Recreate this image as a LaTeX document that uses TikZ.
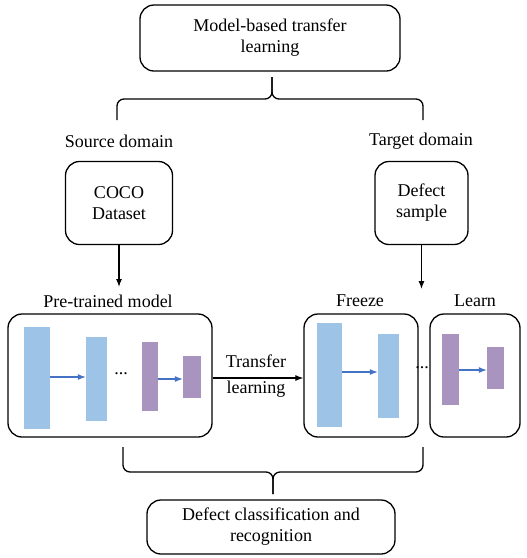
\documentclass[tikz,border=0pt]{standalone}
\usepackage{fontspec}
\setmainfont{Liberation Serif}
\usetikzlibrary{arrows.meta}
\definecolor{layerblue}{HTML}{9DC3E6}
\definecolor{layerpurple}{HTML}{A994C0}
\definecolor{flowblue}{HTML}{4472C4}
\begin{document}
\begin{tikzpicture}[x=1pt,y=-1pt,
  every node/.style={font=\fontsize{18}{21}\selectfont},
  roundbox/.style={draw, line width=1.3pt, rounded corners=14pt},
  txtbox/.style={roundbox, align=center, inner sep=0pt},
  layer/.style={draw=none, inner sep=0pt},
  flow/.style={draw=flowblue, line width=1.1pt, -{Latex[length=8pt,width=6pt]}},
  conn/.style={line width=1.1pt, -{Latex[length=8pt,width=6pt]}},
  brace/.style={line width=1.3pt, rounded corners=7pt}]
\useasboundingbox (0,0) rectangle (527,558);
\fill[white] (0,0) rectangle (527,558);

% top and bottom boxes
\node[txtbox, minimum width=260pt, minimum height=66pt] (top) at (270,38) {Model-based transfer\\learning};
\node[txtbox, minimum width=248pt, minimum height=54pt] (bottom) at (271,527) {Defect classification and\\recognition};

% braces
\coordinate (tt) at (272,77);
\coordinate (tl) at (117,120);
\coordinate (tr) at (423,120);
\draw[brace] (tl) |- (272,99) -- (tt);
\draw[brace] (tr) |- (272,99) -- (tt);
\coordinate (bt) at (273,494);
\coordinate (bl) at (123,447);
\coordinate (br) at (423,447);
\draw[brace] (bl) |- (273,472) -- (bt);
\draw[brace] (br) |- (273,472) -- (bt);

% domain labels
\node (src) at (119,141) {Source domain};
\node (tgt) at (421,141) {Target domain};
\node[txtbox, minimum width=107pt, minimum height=83pt] (coco) at (119,203) {COCO\\Dataset};
\node[txtbox, minimum width=93pt, minimum height=83pt] (defect) at (421.5,203) {Defect\\sample};

% model boxes
\node (ptl) at (108,301) {Pre-trained model};
\node (frl) at (360,301) {Freeze};
\node (lnl) at (475,301) {Learn};
\node[roundbox, minimum width=204pt, minimum height=123pt, inner sep=0pt] (pre) at (110,375.5) {};
\node[roundbox, minimum width=114pt, minimum height=123pt, inner sep=0pt] (frz) at (361,375.5) {};
\node[roundbox, minimum width=90pt, minimum height=123pt, inner sep=0pt] (lrn) at (475,375.5) {};

\draw[conn] (coco.south) -- (119,287) coordinate (cocoend);
\draw[conn] (defect.south) -- (421.5,289) coordinate (defend);

% pre-trained layers
\node[layer, fill=layerblue, minimum width=26pt, minimum height=102pt] (p1) at (37,378) {};
\node[layer, fill=layerblue, minimum width=21pt, minimum height=84pt] (p2) at (96.5,379) {};
\node[layer, fill=layerpurple, minimum width=16pt, minimum height=69pt] (p3) at (150,376.5) {};
\node[layer, fill=layerpurple, minimum width=18pt, minimum height=42pt] (p4) at (192,377) {};
\draw[flow] (p1.east |- 0,377) -- (p2.west |- 0,377);
\draw[flow] (p3.east |- 0,379) -- (p4.west |- 0,379);
\node (pdots) at (121,374) {...};

% freeze layers
\node[layer, fill=layerblue, minimum width=25pt, minimum height=104pt] (f1) at (329.5,375) {};
\node[layer, fill=layerblue, minimum width=21pt, minimum height=84pt] (f2) at (388.5,376) {};
\draw[flow] (f1.east |- 0,372) -- (f2.west |- 0,372);
\node (mdots) at (422,368) {...};

% learn layers
\node[layer, fill=layerpurple, minimum width=17pt, minimum height=71pt] (l1) at (450.5,369.5) {};
\node[layer, fill=layerpurple, minimum width=17pt, minimum height=42pt] (l2) at (495.5,368) {};
\draw[flow] (l1.east |- 0,370) -- (l2.west |- 0,370);

% transfer arrow
\draw[conn] (pre.east |- 0,378) -- (frz.west |- 0,378);
\node (tr1) at (256,361) {Transfer};
\node (tr2) at (256,389) {learning};
\end{tikzpicture}
\end{document}
